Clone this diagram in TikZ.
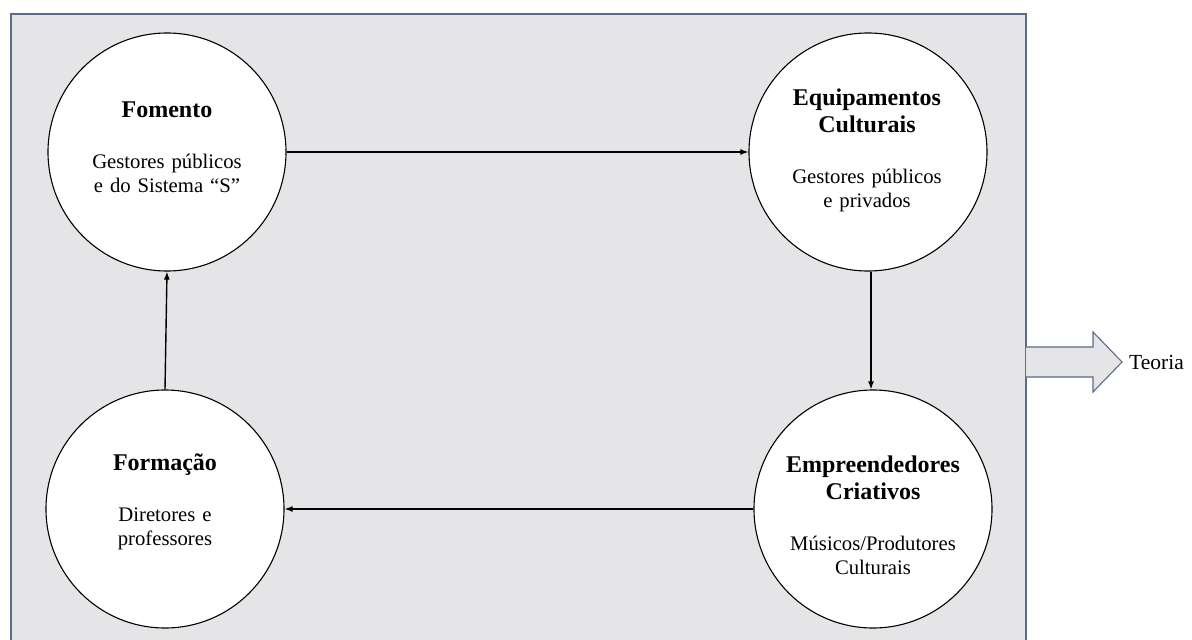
\documentclass[tikz,border=0pt]{standalone}
\usepackage{fontspec}
\setmainfont{Liberation Serif}
\usetikzlibrary{arrows.meta}
\definecolor{bgfill}{HTML}{E5E4E6}
\definecolor{frame}{HTML}{5B6B88}
\tikzset{
  circ/.style={circle, draw=black, line width=1.1pt, fill=white, minimum size=238pt, inner sep=0pt},
  ctext/.style={text width=220pt, align=center, font=\fontsize{20.7}{24}\selectfont, inner sep=0pt},
  conn/.style={line width=1.4pt, -{Latex[length=8pt,width=6pt]}},
}
\newcommand{\ttl}[1]{{\fontsize{24}{27}\selectfont\bfseries #1\par}\vspace{27pt}}
\begin{document}
\begin{tikzpicture}[x=1pt,y=-1pt]
\useasboundingbox (0,0) rectangle (1192,640);
\draw[frame, fill=bgfill, line width=1.2pt] (11,14) rectangle (1026,660);
% circles
\node[circ] (fom) at (167,152) {};
\node[circ] (equ) at (868,152) {};
\node[circ] (emp) at (873,509) {};
\node[circ] (for) at (165,509) {};
% texts
\node[ctext] at (167,147) {\ttl{Fomento}Gestores públicos\\e do Sistema “S”};
\node[ctext] at (867,150) {\ttl{Equipamentos\\Culturais}Gestores públicos\\e privados};
\node[ctext] at (873,515) {\ttl{Empreendedores\\Criativos}Músicos/Produtores\\Culturais};
\node[ctext] at (165,502) {\ttl{Formação}Diretores e\\professores};
% connectors
\draw[conn] (fom.east) -- (equ.west);
\draw[conn] ([xshift=3pt]equ.south) -- ([xshift=-2pt]emp.north);
\draw[conn] (emp.west) -- (for.east);
\draw[conn] (for.north) -- (fom.south);
% fat arrow
\coordinate (a0) at (1026,347);
\draw[frame, fill=bgfill, line width=1.1pt, line join=miter]
  (a0) -- (1093,347) -- (1093,332) -- (1122,362) -- (1093,392) -- (1093,377) -- (1026,377);
\node[anchor=west, font=\fontsize{21.5}{24}\selectfont, inner sep=0pt] (teo) at (1129,362) {Teoria};
\end{tikzpicture}
\end{document}
